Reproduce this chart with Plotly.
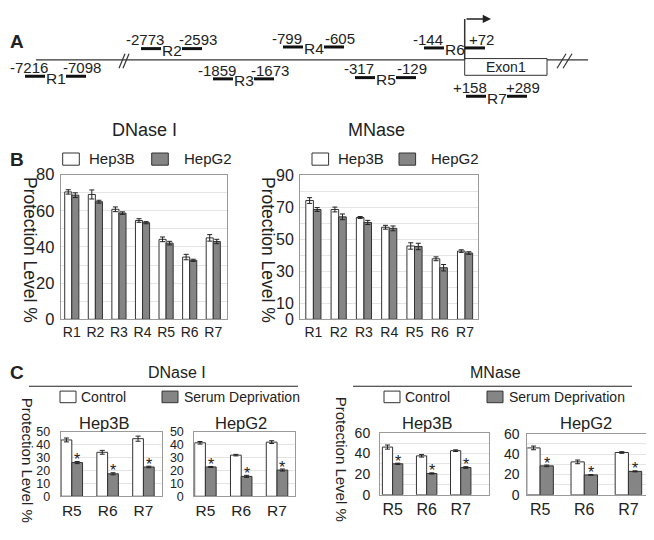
import plotly.graph_objects as go

W, H = 654, 540
FONT = "Liberation Sans, Arial, sans-serif"
SHIFT = 8  # page body margin: the figure lands 8px right/down in the window

# ---- panel A: promoter map ----
regions = ["R1", "R2", "R3", "R4", "R5", "R6", "R7"]
region_start = ["-7216", "-2773", "-1859", "-799", "-317", "-144", "+158"]
region_end = ["-7098", "-2593", "-1673", "-605", "-129", "+72", "+289"]

# ---- panel B: protection level per region ----
dnase_hep3b = [70.4, 69.0, 60.8, 54.6, 44.2, 34.4, 45.0]
dnase_hep3b_err = [1.2, 2.5, 1.3, 1.0, 1.3, 1.5, 1.8]
dnase_hepg2 = [68.6, 65.0, 58.7, 53.4, 42.1, 32.6, 43.0]
dnase_hepg2_err = [1.3, 0.8, 0.7, 0.6, 1.0, 0.6, 1.2]

mnase_hep3b = [74.2, 68.6, 63.6, 57.5, 45.8, 37.8, 42.6]
mnase_hep3b_err = [1.8, 1.5, 0.6, 1.2, 2.0, 1.2, 0.8]
mnase_hepg2 = [68.6, 64.0, 60.5, 56.8, 45.5, 32.2, 41.4]
mnase_hepg2_err = [1.2, 1.8, 1.3, 1.5, 2.0, 2.0, 0.8]

# ---- panel C: serum deprivation ----
c_regions = ["R5", "R6", "R7"]
c_dnase_hep3b_ctrl = [43.8, 34.2, 44.8]
c_dnase_hep3b_ctrl_err = [1.5, 1.5, 2.0]
c_dnase_hep3b_sd = [26.2, 17.5, 22.8]
c_dnase_hep3b_sd_err = [0.8, 0.8, 0.6]
c_dnase_hepg2_ctrl = [41.6, 32.0, 42.1]
c_dnase_hepg2_ctrl_err = [1.0, 0.6, 1.1]
c_dnase_hepg2_sd = [22.8, 15.5, 20.4]
c_dnase_hepg2_sd_err = [0.4, 0.8, 0.8]

c_mnase_hep3b_ctrl = [46.3, 37.8, 42.8]
c_mnase_hep3b_ctrl_err = [2.0, 1.2, 0.8]
c_mnase_hep3b_sd = [30.1, 20.7, 26.5]
c_mnase_hep3b_sd_err = [0.6, 0.6, 0.8]
c_mnase_hepg2_ctrl = [46.0, 32.3, 41.5]
c_mnase_hepg2_ctrl_err = [1.8, 1.8, 0.8]
c_mnase_hepg2_sd = [28.4, 19.5, 23.0]
c_mnase_hepg2_sd_err = [0.8, 0.3, 0.5]
signif = ["*", "*", "*"]

BARGAP = 0.4


def px(x):
    return (x - SHIFT) / W


def py(y):
    return 1 - (y - SHIFT) / H


fig = go.Figure()
shapes = []
annos = []


def line(x0, y0, x1, y1, w=1.0, c="#333"):
    shapes.append(dict(type="line", xref="paper", yref="paper", x0=px(x0), y0=py(y0),
                       x1=px(x1), y1=py(y1), line=dict(color=c, width=w)))


def text(x, y, s, size, bold=False, angle=0, xanchor="center"):
    annos.append(dict(xref="paper", yref="paper", x=px(x), y=py(y), text=("<b>%s</b>" % s) if bold else s,
                      showarrow=False, xanchor=xanchor, yanchor="middle", textangle=angle,
                      font=dict(size=size, color="#222", family=FONT)))


def box(x0, y0, x1, y1, fill):
    shapes.append(dict(type="rect", xref="paper", yref="paper", x0=px(x0), y0=py(y0),
                       x1=px(x1), y1=py(y1), fillcolor=fill, line=dict(color="#333", width=1)))


# ---------- panel A drawing ----------
text(SHIFT, 33, "A", 19, bold=True, xanchor="left")
line(36, 52.3, 464.7, 52.3, 1.2)
line(547, 52.3, 588, 52.3, 1.2)
for bx, bw in [(119, 6), (557, 9)]:
    line(bx, 61, bx + bw, 46, 1.2)
    line(bx + bw / 1.5, 61, bx + bw + bw / 1.5, 46, 1.2)
box(464.7, 51, 547, 68.3, "white")
text(506, 60, "Exon1", 14)
line(464.7, 52, 464.7, 10, 1.5)
annos.append(dict(xref="paper", yref="paper", x=px(491), y=py(10), ax=-26, ay=0, text="",
                  showarrow=True, arrowhead=2, arrowsize=1.1, arrowwidth=1.5, arrowcolor="#222"))

region_x = [25, 141, 213, 283, 355, 424, 466]
region_y = [69.3, 40.7, 72, 39, 70.7, 40, 90]
for name, s, e, x0, y0 in zip(regions, region_start, region_end, region_x, region_y):
    line(x0, y0, x0 + 20, y0, 3, "#111")
    line(x0 + 41, y0, x0 + 61, y0, 3, "#111")
    text(x0 + 30.5, y0 + 2, name, 15.5)
    text(x0 + 4, y0 - 9, s, 15)
    text(x0 + 57, y0 - 9, e, 15)

# ---------- bar panels ----------
WHITE = dict(color="white", line=dict(color="#333", width=1))
GRAY = dict(color="#858585", line=dict(color="#333", width=1))


def err(a):
    return dict(type="data", array=a, color="#222", thickness=1, width=2.5)


panels = [
    dict(x=(60.7, 226.7), y=(171, 320.7), xr=(-0.47, 6.57), ymax=80,
         tv=list(range(0, 81, 10)), tt=["0", "", "20", "", "40", "", "60", "", "80"], ts=16.5, xs=14, so=2),
    dict(x=(300, 477.7), y=(171.7, 320.7), xr=(-0.53, 6.5), ymax=90,
         tv=list(range(0, 91, 10)), tt=["0", "10", "", "30", "", "50", "", "70", "", "90"], ts=16, xs=14, so=2),
    dict(x=(60.7, 161.7), y=(437.3, 503.8), xr=(-0.31, 2.51), ymax=50,
         tv=list(range(0, 51, 10)), tt=["0", "10", "20", "30", "40", "50"], ts=12.5, xs=15.5, so=7),
    dict(x=(194.3, 295.3), y=(437.3, 503.8), xr=(-0.31, 2.51), ymax=50,
         tv=list(range(0, 51, 10)), tt=["0", "10", "20", "30", "40", "50"], ts=12.5, xs=15.5, so=7),
    dict(x=(380, 489), y=(438.3, 502.3), xr=(-0.37, 2.83), ymax=60,
         tv=list(range(0, 61, 10)), tt=["0", "", "20", "", "40", "", "60"], ts=14, xs=16, so=6),
    dict(x=(527.3, 648.3), y=(439, 502.3), xr=(-0.29, 2.45), ymax=60,
         tv=list(range(0, 61, 10)), tt=["0", "", "20", "", "40", "", "60"], ts=14, xs=16, so=4),
]

series = [
    (regions, dnase_hep3b, dnase_hep3b_err, dnase_hepg2, dnase_hepg2_err),
    (regions, mnase_hep3b, mnase_hep3b_err, mnase_hepg2, mnase_hepg2_err),
    (c_regions, c_dnase_hep3b_ctrl, c_dnase_hep3b_ctrl_err, c_dnase_hep3b_sd, c_dnase_hep3b_sd_err),
    (c_regions, c_dnase_hepg2_ctrl, c_dnase_hepg2_ctrl_err, c_dnase_hepg2_sd, c_dnase_hepg2_sd_err),
    (c_regions, c_mnase_hep3b_ctrl, c_mnase_hep3b_ctrl_err, c_mnase_hep3b_sd, c_mnase_hep3b_sd_err),
    (c_regions, c_mnase_hepg2_ctrl, c_mnase_hepg2_ctrl_err, c_mnase_hepg2_sd, c_mnase_hepg2_sd_err),
]

layout_axes = {}
gray_offset = (1 - BARGAP) / 4  # centre of the second bar in a group, in category units
for i, (p, (cats, a, ae, b, be)) in enumerate(zip(panels, series), start=1):
    sfx = "" if i == 1 else str(i)
    xa, ya = "x" + sfx, "y" + sfx
    fig.add_trace(go.Bar(x=cats, y=a, marker=WHITE, error_y=err(ae), xaxis=xa, yaxis=ya,
                         showlegend=False))
    fig.add_trace(go.Bar(x=cats, y=b, marker=GRAY, error_y=err(be), xaxis=xa, yaxis=ya,
                         showlegend=False))
    if i > 2:
        # significance marks above the serum-deprivation bars
        for j, (v, e, s) in enumerate(zip(b, be, signif)):
            annos.append(dict(xref=xa, yref=ya, x=j + gray_offset, y=v + e, text=s,
                              showarrow=False, xanchor="center", yanchor="middle", yshift=2,
                              font=dict(size=16, color="#222", family=FONT)))
    layout_axes["xaxis" + sfx] = dict(
        domain=[px(p["x"][0]), px(p["x"][1])], anchor=ya, range=list(p["xr"]), type="category",
        showline=True, mirror=True, linecolor="#9a9a9a", linewidth=1, showgrid=False, ticks="",
        tickfont=dict(size=p["xs"], color="#222", family=FONT), ticklabelstandoff=0)
    layout_axes["yaxis" + sfx] = dict(
        domain=[py(p["y"][1]), py(p["y"][0])], anchor=xa, range=[0, p["ymax"]],
        tickvals=p["tv"], ticktext=p["tt"], showline=True, mirror=True, linecolor="#9a9a9a",
        linewidth=1, showgrid=True, gridcolor="#e4e4e4", gridwidth=1, zeroline=False, ticks="",
        tickfont=dict(size=p["ts"], color="#222", family=FONT), ticklabelstandoff=p["so"])

# ---------- panel B titles / legends ----------
text(SHIFT, 155, "B", 19, bold=True, xanchor="left")
text(144, 125, "DNase I", 18)
text(377, 125, "MNase", 18)
for bx0, tx0, gx0, gtx0 in [(62.7, 87, 151.7, 182), (312, 336, 399, 429)]:
    box(bx0, 148.7, bx0 + 16.6, 161.3, "white")
    box(gx0, 148.7, gx0 + 16.6, 161.3, "#858585")
    text(tx0, 154.5, "Hep3B", 15, xanchor="left")
    text(gtx0, 154.5, "HepG2", 15, xanchor="left")
text(30, 249, "Protection Level %", 17.5, angle=90)
text(268, 249, "Protection Level %", 17.5, angle=90)

# ---------- panel C titles / legends ----------
text(SHIFT, 376, "C", 19, bold=True, xanchor="left")
text(177, 376, "DNase I", 16)
text(495, 376, "MNase", 16)
line(29, 390, 298, 390, 1.2, "#222")
line(353, 390, 632, 390, 1.2, "#222")
for bx0, gx0 in [(60, 162), (384, 487)]:
    box(bx0, 395, bx0 + 16, 407, "white")
    box(gx0, 395, gx0 + 16, 407, "#858585")
    text(bx0 + 19, 401.5, "Control", 14, xanchor="left")
    text(gx0 + 20, 401.5, "Serum Deprivation", 14, xanchor="left")
text(104, 428, "Hep3B", 16.5)
text(241, 428, "HepG2", 16.5)
text(427, 428, "Hep3B", 16.5)
text(586, 428, "HepG2", 16.5)
text(27, 466, "Protection Level %", 15, angle=90)
text(341, 466, "Protection Level %", 15, angle=90)

fig.update_layout(width=W, height=H, margin=dict(l=0, r=0, t=0, b=0),
                  paper_bgcolor="white", plot_bgcolor="white",
                  barmode="group", bargap=BARGAP, bargroupgap=0,
                  font=dict(family=FONT, color="#222"),
                  shapes=shapes, annotations=annos, **layout_axes)

fig.write_html("out.html")
